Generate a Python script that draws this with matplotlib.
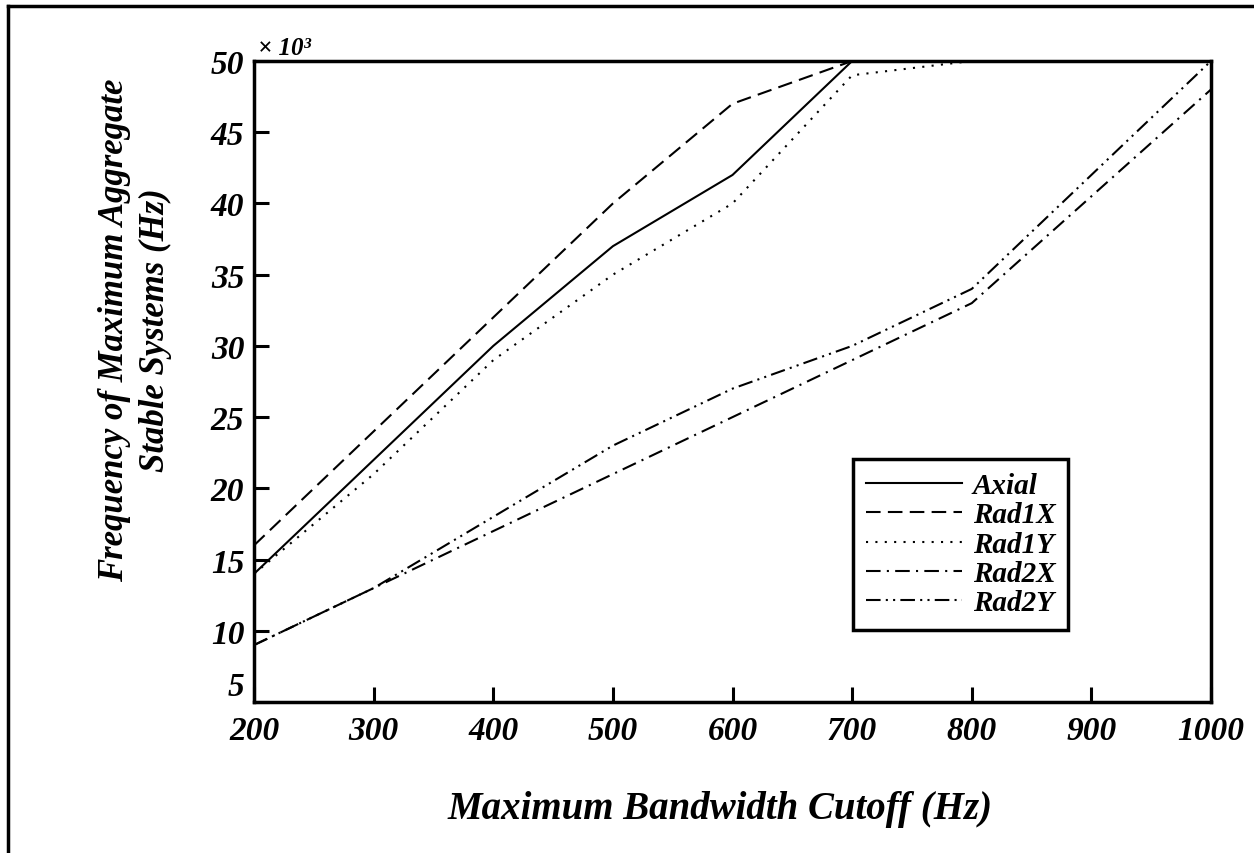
import matplotlib
matplotlib.use('Agg')
import matplotlib.pyplot as plt
from matplotlib.lines import Line2D

# data (y in thousands of Hz)
cutoff = [200, 300, 400, 500, 600, 700, 800, 900, 1000]

axial = [14, 22, 30, 37, 42, 50, 50, 50, 50]
rad1x = [16, 24, 32, 40, 47, 50, 50, 50, 50]
rad1y = [14, 21, 29, 35, 40, 49, 50, 50, 50]
rad2x = [9, 13, 17, 21, 25, 29, 33, 40.5, 48]
rad2y = [9, 13, 18, 23, 27, 30, 34, 42, 50]

series_names = ['Axial', 'Rad1X', 'Rad1Y', 'Rad2X', 'Rad2Y']
x_ticks = [200, 300, 400, 500, 600, 700, 800, 900, 1000]
y_ticks = [5, 10, 15, 20, 25, 30, 35, 40, 45, 50]

# matplotlib settings
plt.rcParams.update({'font.family': 'Liberation Serif',
                     'font.weight': 'bold',
                     'font.style': 'italic'})

fig = plt.figure(figsize=(12.54, 8.54), dpi=100)
ax = fig.add_axes([0.2026, 0.1768, 0.7631, 0.7506])

styles = {'Axial': dict(linestyle='-'),
          'Rad1X': dict(dashes=(7, 3.5)),
          'Rad1Y': dict(dashes=(1, 3.5)),
          'Rad2X': dict(dashes=(7, 3, 1, 3)),
          'Rad2Y': dict(dashes=(7, 2.5, 1, 2.5, 1, 2.5))}

for name, vals in zip(series_names, [axial, rad1x, rad1y, rad2x, rad2y]):
    ax.plot(cutoff, vals, color='black', lw=1.5, label=name, **styles[name])

ax.set_xlim(200, 1000)
ax.set_ylim(5, 50)
ax.set_xticks(x_ticks)
ax.set_yticks(y_ticks)
ax.tick_params(axis='both', direction='in', length=11, width=2.2,
               labelsize=24, top=False, right=False)
ax.tick_params(axis='x', pad=9)
ax.tick_params(axis='y', pad=7)
for sp in ax.spines.values():
    sp.set_linewidth(2.5)

# the bottom "5" sits on the spine, just above the "200"
ax.get_yticklabels()[0].set_verticalalignment('bottom')

ax.text(0.004, 1.003, '× 10³', transform=ax.transAxes, fontsize=18,
        ha='left', va='bottom')

leg = ax.legend(loc='upper left', bbox_to_anchor=(853 / 1254, 1 - 460 / 854),
                bbox_transform=fig.transFigure, borderaxespad=0,
                fontsize=21, fancybox=False, framealpha=1,
                edgecolor='black', handlelength=3.3, labelspacing=0.08,
                borderpad=0.45, handletextpad=0.35)
leg.get_frame().set_linewidth(2.5)

fig.text(720 / 1254, 1 - 810 / 854, 'Maximum Bandwidth Cutoff (Hz)',
         fontsize=28, ha='center', va='center')
fig.text(115 / 1254, 1 - 330 / 854, 'Frequency of Maximum Aggregate',
         fontsize=25, ha='center', va='center', rotation=90)
fig.text(155 / 1254, 1 - 330 / 854, 'Stable Systems (Hz)',
         fontsize=25, ha='center', va='center', rotation=90)

# outer frame (top and left edges only)
fig.add_artist(Line2D([8 / 1254, 1.0], [1 - 7 / 854, 1 - 7 / 854],
                      transform=fig.transFigure, color='black', lw=2.5))
fig.add_artist(Line2D([8 / 1254, 8 / 1254], [0.0, 1 - 7 / 854],
                      transform=fig.transFigure, color='black', lw=2.5))

plt.savefig('out.png', dpi=100)
plt.close()
